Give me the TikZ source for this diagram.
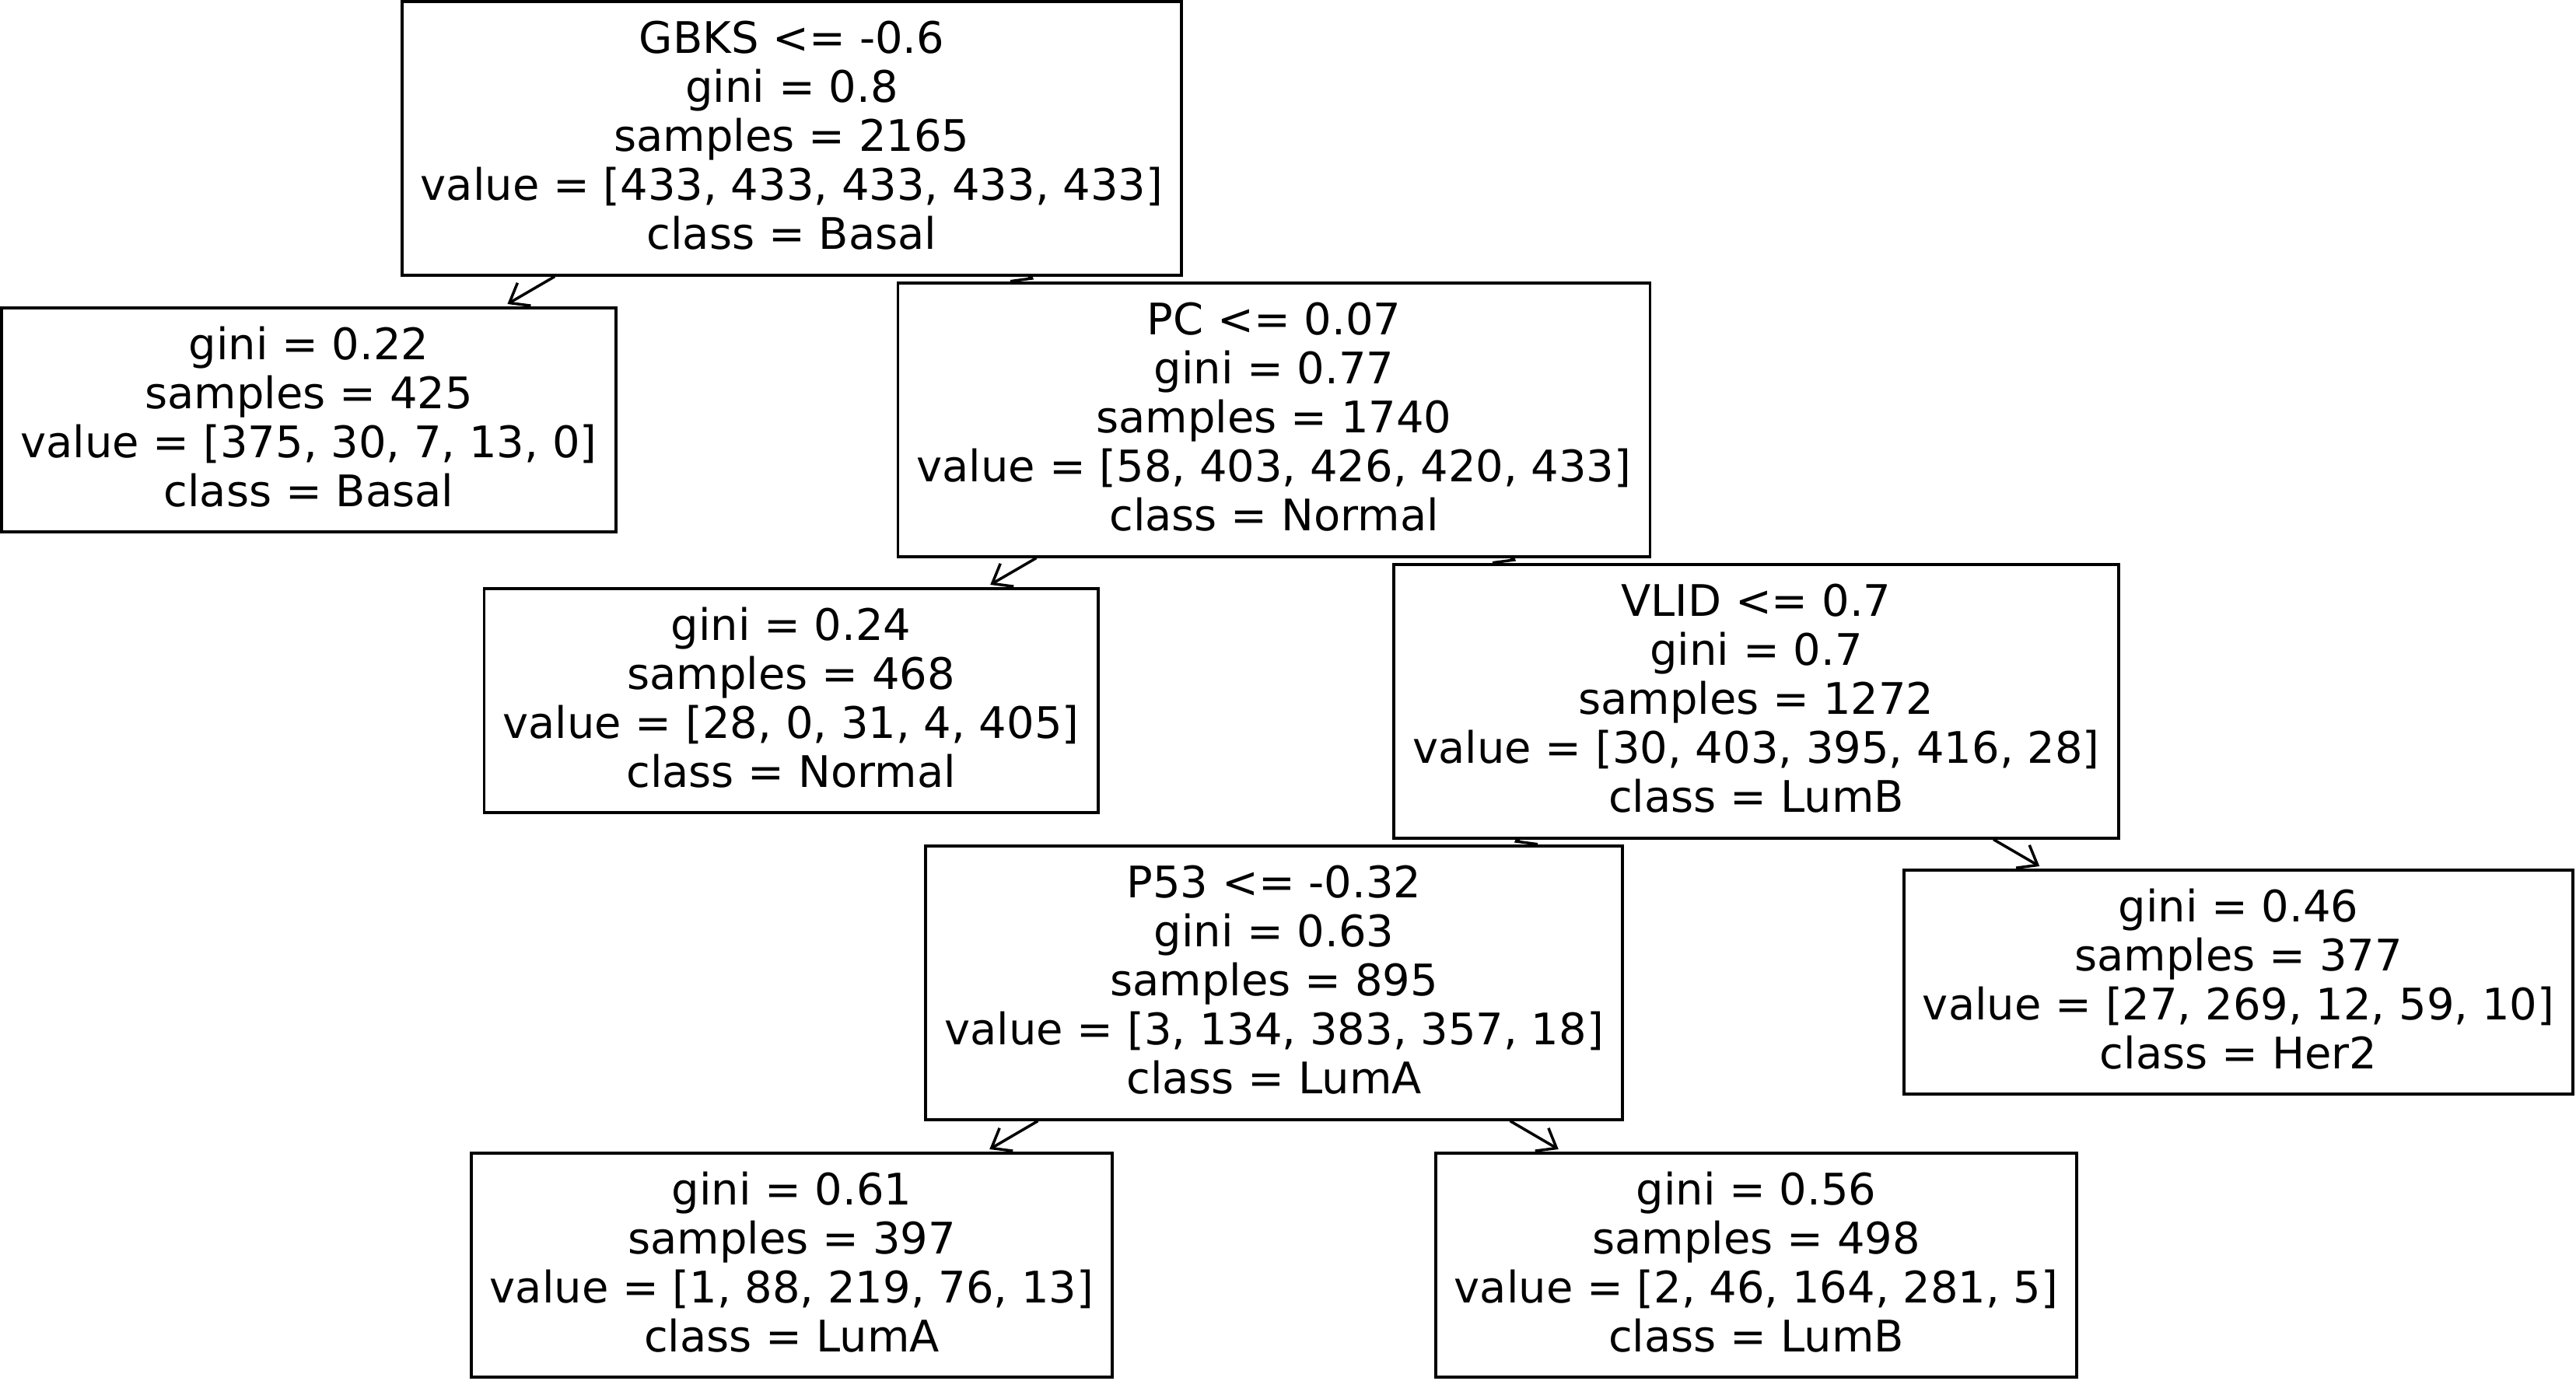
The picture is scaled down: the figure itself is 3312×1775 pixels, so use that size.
\documentclass[tikz,border=0pt]{standalone}
\usepackage{fontspec}
\setmainfont{DejaVu Sans}
\usetikzlibrary{arrows.meta,backgrounds}

\begin{document}
\begin{tikzpicture}[x=0.01cm, y=-0.01cm,
  every node/.style={font=\fontsize{15.9pt}{17.9pt}\selectfont},
  split/.style={draw, fill=white, line width=1.1pt, align=center, inner xsep=0.24cm, inner ysep=0pt, minimum height=3.51cm,
    execute at end node={\rule[-0.09cm]{0pt}{0.09cm}}},
  leaf/.style={split, minimum height=2.88cm},
  edge/.style={-{Straight Barb[length=0.22cm,width=0.34cm]}, line width=1pt, shorten >=0.06cm}]
  \useasboundingbox (0,0) rectangle (3312,1775);
  \node[split] (gbks) at (1018,178) {GBKS <= -0.6\\gini = 0.8\\samples = 2165\\value = [433, 433, 433, 433, 433]\\class = Basal};
  \node[leaf] (basal) at (397,540) {gini = 0.22\\samples = 425\\value = [375, 30, 7, 13, 0]\\class = Basal};
  \node[split] (pc) at (1638,540) {PC <= 0.07\\gini = 0.77\\samples = 1740\\value = [58, 403, 426, 420, 433]\\class = Normal};
  \node[leaf] (normal) at (1017,901) {gini = 0.24\\samples = 468\\value = [28, 0, 31, 4, 405]\\class = Normal};
  \node[split] (vlid) at (2258,902) {VLID <= 0.7\\gini = 0.7\\samples = 1272\\value = [30, 403, 395, 416, 28]\\class = LumB};
  \node[split] (p53) at (1638,1264) {P53 <= -0.32\\gini = 0.63\\samples = 895\\value = [3, 134, 383, 357, 18]\\class = LumA};
  \node[leaf] (her2) at (2878,1263) {gini = 0.46\\samples = 377\\value = [27, 269, 12, 59, 10]\\class = Her2};
  \node[leaf] (luma) at (1018,1627) {gini = 0.61\\samples = 397\\value = [1, 88, 219, 76, 13]\\class = LumA};
  \node[leaf] (lumb) at (2258,1627) {gini = 0.56\\samples = 498\\value = [2, 46, 164, 281, 5]\\class = LumB};
  % arrows go behind the boxes
  \begin{scope}[on background layer]
    \draw[edge] (gbks) -- (basal);
    \draw[edge] (gbks) -- (pc);
    \draw[edge] (pc) -- (normal);
    \draw[edge] (pc) -- (vlid);
    \draw[edge] (vlid) -- (p53);
    \draw[edge] (vlid) -- (her2);
    \draw[edge] (p53) -- (luma);
    \draw[edge] (p53) -- (lumb);
  \end{scope}
\end{tikzpicture}
\end{document}
